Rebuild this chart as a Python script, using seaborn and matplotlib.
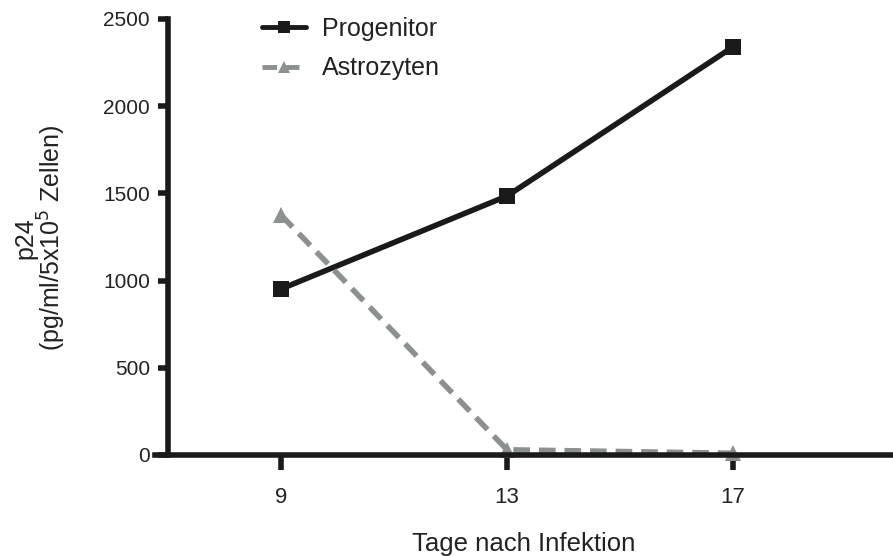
import matplotlib
matplotlib.use("Agg")
import matplotlib.pyplot as plt
import seaborn as sns
import pandas as pd

days = [9, 13, 17]
progenitor = [952, 1485, 2340]
astrozyten = [1376, 30, 10]
series_names = ["Progenitor", "Astrozyten"]
y_ticks = [0, 500, 1000, 1500, 2000, 2500]

df = pd.DataFrame({
    "day": days * 2,
    "p24": progenitor + astrozyten,
    "series": [series_names[0]] * 3 + [series_names[1]] * 3,
})

sns.set_style("white")
plt.rcParams["font.family"] = ["Liberation Sans", "DejaVu Sans"]

fig = plt.figure(figsize=(8.93, 5.56), dpi=100)
ax = fig.add_axes([155 / 893, 1 - 455 / 556, 1 - 155 / 893, (455 - 19) / 556])

colors = {"Progenitor": "#1a1a1a", "Astrozyten": "#8c908e"}
sns.lineplot(data=df, x="day", y="p24", hue="series", style="series",
             palette=colors,
             markers={"Progenitor": "s", "Astrozyten": "^"},
             dashes={"Progenitor": "", "Astrozyten": (3, 1.6)},
             linewidth=4, markersize=11.5, markeredgewidth=0,
             ax=ax, zorder=2, clip_on=False)

ax.set_xlim(9 - 126 / 56.5, 9 + (893 - 281) / 56.5)
ax.set_ylim(0, 2500)
ax.set_xticks(days)
ax.set_yticks(y_ticks)

for s in ["top", "right"]:
    ax.spines[s].set_visible(False)
ax.spines["left"].set_position(("data", 7))
ax.spines["left"].set_bounds(0, 2500)
for s in ["left", "bottom"]:
    ax.spines[s].set_linewidth(4)
    ax.spines[s].set_color("#1a1a1a")
    ax.spines[s].set_zorder(3)

ax.tick_params(axis="y", which="major", direction="out", length=7, width=4,
               color="#1a1a1a", labelsize=15, pad=6, left=True)
ax.tick_params(axis="x", which="major", direction="out", length=11, width=4,
               color="#1a1a1a", labelsize=16, pad=12, bottom=True)
for lbl in ax.get_xticklabels() + ax.get_yticklabels():
    lbl.set_color("#222222")

ax.set_xlabel("Tage nach Infektion", fontsize=18.5, labelpad=17, color="#222222")
ax.set_ylabel("")
fig.text(41 / 893, 1 - 238 / 556, "p24\n(pg/ml/5x10$^5$ Zellen)", rotation=90,
         ha="center", va="center", fontsize=18, color="#222222",
         multialignment="center", linespacing=0.95)

handles, labels = ax.get_legend_handles_labels()
for h in handles:
    h.set_markersize(9)
    h.set_linewidth(3.5)
leg = ax.legend(handles=handles, labels=labels, loc="upper left",
                bbox_to_anchor=(262 / 893, 1 - 17 / 556), bbox_transform=fig.transFigure,
                frameon=False, fontsize=18, handlelength=1.75, handletextpad=0.65,
                labelspacing=0.62, borderaxespad=0, borderpad=0)
for t in leg.get_texts():
    t.set_color("#222222")

fig.savefig("out.png", dpi=100)
